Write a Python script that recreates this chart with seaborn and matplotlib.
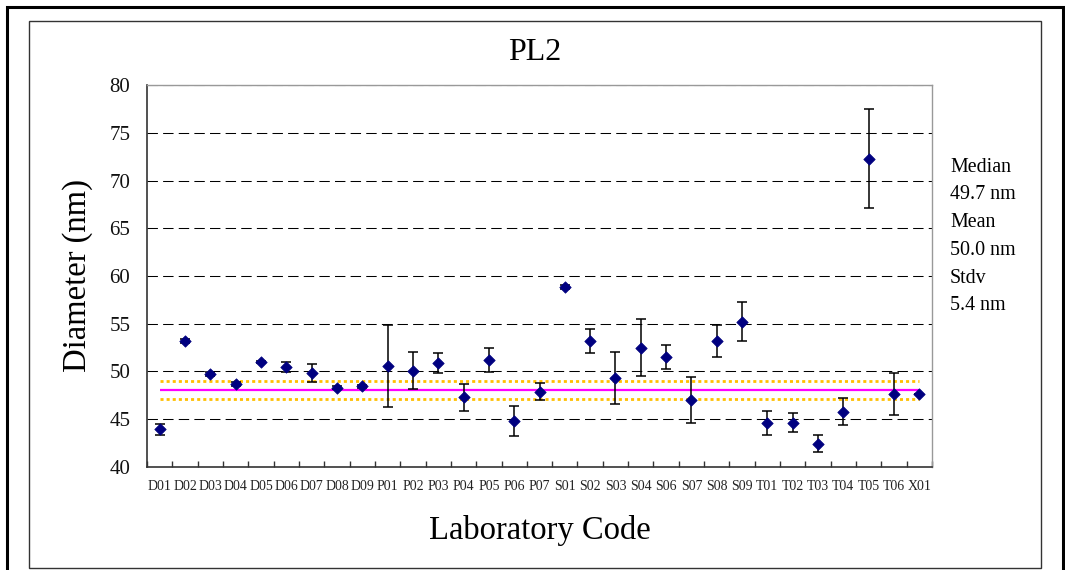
import numpy as np
import pandas as pd
import seaborn as sns
import matplotlib.pyplot as plt
from matplotlib.patches import Rectangle

# lab codes and measured diameters (nm) with their uncertainties
labs = ["D01", "D02", "D03", "D04", "D05", "D06", "D07", "D08", "D09",
        "P01", "P02", "P03", "P04", "P05", "P06", "P07",
        "S01", "S02", "S03", "S04", "S06", "S07", "S08", "S09",
        "T01", "T02", "T03", "T04", "T05", "T06", "X01"]
means = [43.95, 53.2, 49.7, 48.7, 51.0, 50.45, 49.85, 48.3, 48.45,
         50.55, 50.1, 50.9, 47.3, 51.2, 44.8, 47.9,
         58.85, 53.2, 49.3, 52.5, 51.55, 47.05, 53.2, 55.2,
         44.65, 44.65, 42.45, 45.8, 72.3, 47.6, 47.6]
errs = [0.6, 0.2, 0.2, 0.2, 0.15, 0.55, 0.9, 0.15, 0.15,
        4.3, 1.95, 1.05, 1.4, 1.3, 1.55, 0.9,
        0.2, 1.25, 2.75, 2.95, 1.25, 2.4, 1.65, 2.05,
        1.25, 1.0, 0.85, 1.45, 5.15, 2.2, 0.0]

ref_value = 48.05
ref_band = [49.0, 47.1]
stats_text = ["Median", "49.7 nm", "Mean", "50.0 nm", "Stdv", "5.4 nm"]

df = pd.DataFrame({"lab": labs, "diameter": means, "err": errs})

sns.set_theme(style="white")
plt.rcParams["font.family"] = ["Liberation Serif", "DejaVu Serif"]

fig = plt.figure(figsize=(10.65, 5.7), dpi=100)
ax = fig.add_axes([147 / 1065, 103 / 570, 785 / 1065, 382 / 570])

n = len(labs)
xpos = np.arange(n)

# reference value and band
ax.hlines(ref_value, 0, n - 1, color="#FF00FF", lw=1.6, zorder=2)
for yb in ref_band:
    ax.hlines(yb, 0, n - 1, color="#FFC000", lw=2, linestyles=(0, (1.1, 1.1)), zorder=2)

ax.errorbar(xpos, df["diameter"], yerr=df["err"], fmt="none", ecolor="black",
            elinewidth=1.1, capsize=3.6, capthick=1.1, zorder=3)
sns.scatterplot(data=df, x="lab", y="diameter", marker="D", color="#000080",
                edgecolor="#000080", linewidth=0.5, s=34, zorder=4, ax=ax, legend=False)

ax.set_xlim(-0.5, n - 0.5)
ax.set_ylim(40, 80)
ax.set_yticks(np.arange(40, 81, 5))
ax.set_xticks(xpos)
ax.set_xticklabels(labs)
ax.set_xticks(np.arange(-0.5, n, 1), minor=True)

for y in range(45, 81, 5):
    ax.axhline(y, color="black", lw=0.75, ls=(0, (10, 5)), zorder=1)

ax.tick_params(axis="x", which="major", length=0, pad=9, labelsize=10, colors="#222222")
ax.tick_params(axis="x", which="minor", direction="in", length=4, width=1, color="#333333",
               bottom=True)
ax.tick_params(axis="y", length=0, pad=12, labelsize=15, colors="#111111")

for side in ["left", "bottom"]:
    ax.spines[side].set_color("#333333")
    ax.spines[side].set_linewidth(1.2)
for side in ["top", "right"]:
    ax.spines[side].set_color("#999999")
    ax.spines[side].set_linewidth(1.0)

ax.set_xlabel("Laboratory Code", fontsize=23.5, color="black")
ax.xaxis.label.set_va("center")
ax.xaxis.set_label_coords(0.5, -0.165)
ax.set_ylabel("Diameter (nm)", fontsize=23.5, color="black")
ax.yaxis.label.set_va("center")
ax.yaxis.set_label_coords(-0.088, 0.5)
ax.set_title("PL2", fontsize=23, x=0.494, y=1.084, va="center", color="black", pad=0)

for i, line in enumerate(stats_text):
    fig.text(950 / 1065, 1 - (167 + 27.8 * i) / 570, line, fontsize=14.4,
             va="center", ha="left", color="black")

# chart frames
fig.add_artist(Rectangle((29 / 1065, 2 / 570), 1012 / 1065, 547 / 570, fill=False,
                         lw=1.0, edgecolor="#333333", transform=fig.transFigure))
fig.add_artist(Rectangle((7 / 1065, -0.1), 1056 / 1065, 1.1 - 7 / 570, fill=False,
                         lw=2.2, edgecolor="black", transform=fig.transFigure, clip_on=False))

fig.savefig("out.png", dpi=100)
